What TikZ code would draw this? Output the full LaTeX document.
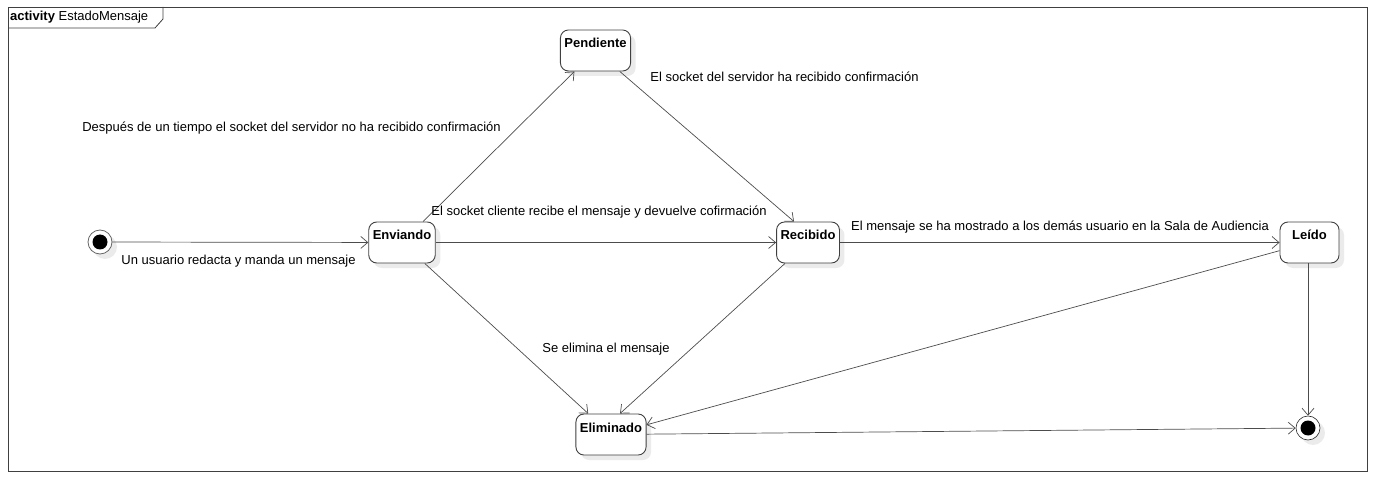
\documentclass[tikz,border=0pt]{standalone}
\usepackage{fontspec}
\setmainfont{Liberation Sans}
\usetikzlibrary{arrows.meta,shadows}
\begin{document}
\begin{tikzpicture}[x=1pt, y=-1pt, >={Straight Barb[length=7pt,width=12pt]}, font=\fontsize{13}{15}\selectfont,
    sombra/.style={drop shadow={fill=black!8, opacity=1, shadow xshift=5pt, shadow yshift=-5pt}},
    estado/.style={draw=black!75, line width=0.9pt, rounded corners=8pt, fill=white, sombra, minimum width=59pt, inner xsep=4pt, inner ysep=3pt, text height=15pt, text depth=20pt, font=\fontsize{13}{15}\selectfont\bfseries},
    inicio/.style={circle, draw=black!60, line width=0.8pt, fill=white, sombra, minimum size=24pt, inner sep=0pt, path picture={\fill[black] (path picture bounding box.center) circle (7.5pt);}},
    fin/.style={circle, draw=black!85, line width=0.6pt, fill=white, sombra, minimum size=24pt, inner sep=0pt, path picture={\fill[black] (path picture bounding box.center) circle (7.5pt);}},
    trans/.style={->, draw=black!70, line width=0.7pt}]
    \useasboundingbox (0,0) rectangle (1375,478);
    % marco
    \draw[black!75, line width=0.8pt] (8,7) rectangle (1367,471);
    \draw[black!75, line width=0.8pt] (8,28) -- (155,28) -- (163,19) -- (163,7);
    \node[anchor=west, inner sep=0pt] (marco) at (10,17) {\textbf{activity} EstadoMensaje};
    % estados
    \node[inicio] (ini) at (100,242) {};
    \node[estado] (env) at (402,242.5) {Enviando};
    \node[estado] (pen) at (595.5,50.5) {Pendiente};
    \node[estado] (rec) at (808,242.5) {Recibido};
    \node[estado] (lei) at (1309.5,242.5) {Leído};
    \node[estado] (eli) at (611,434.5) {Eliminado};
    \node[fin] (fin) at (1308,428) {};
    % transiciones
    \draw[trans] (ini) -- (env);
    \draw[trans] (env) -- (pen);
    \draw[trans] (pen) -- ([xshift=-14pt]rec.north);
    \draw[trans] (env) -- (rec);
    \draw[trans] (rec) -- (lei);
    \draw[trans] (env) -- (eli);
    \draw[trans] (rec) -- ([xshift=9pt]eli.north);
    \draw[trans] (lei) -- (eli);
    \draw[trans] (eli) -- (fin);
    \draw[trans] (lei.south -| fin) -- (fin);
    % etiquetas
    \node (t1) at (238.5,261) {Un usuario redacta y manda un mensaje};
    \node (t2) at (291.5,128) {Después de un tiempo el socket del servidor no ha recibido confirmación};
    \node (t3) at (784.5,77) {El socket del servidor ha recibido confirmación};
    \node (t4) at (599,212) {El socket cliente recibe el mensaje y devuelve cofirmación};
    \node (t5) at (1060,227) {El mensaje se ha mostrado a los demás usuario en la Sala de Audiencia};
    \node (t6) at (606,349) {Se elimina el mensaje};
\end{tikzpicture}
\end{document}
